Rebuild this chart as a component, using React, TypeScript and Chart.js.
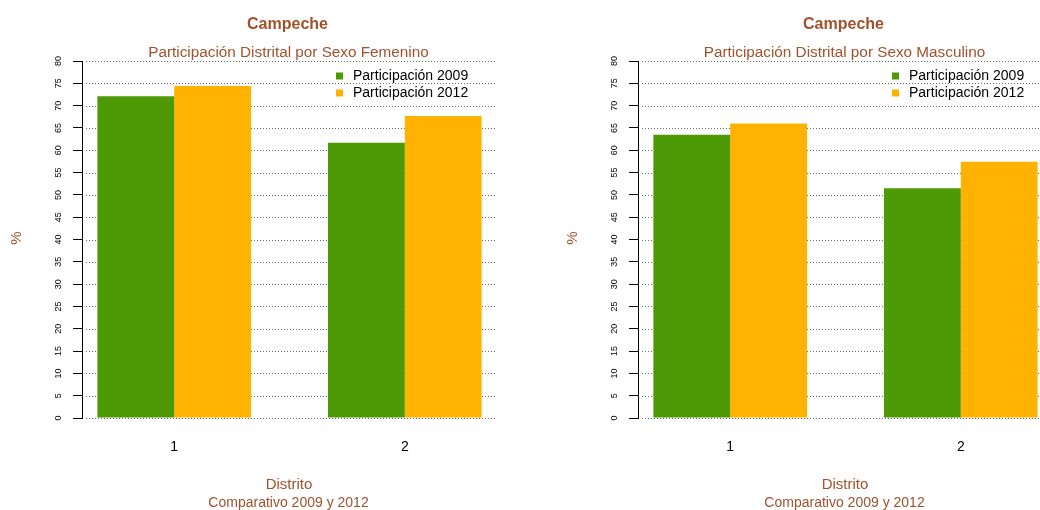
import React, { useEffect, useRef } from 'react';
import { Chart, registerables } from 'chart.js';

Chart.register(...registerables);

// ---- Data ----
const distritos = ['1', '2'];
const seriesLabels = ['Participación 2009', 'Participación 2012'];
const seriesColors = ['#4E9A06', '#FFB300'];
const femenino2009 = [72.1, 61.7];
const femenino2012 = [74.4, 67.7];
const masculino2009 = [63.5, 51.5];
const masculino2012 = [66.0, 57.4];
const yTickValues = [0, 5, 10, 15, 20, 25, 30, 35, 40, 45, 50, 55, 60, 65, 70, 75, 80];

const titulo = 'Campeche';
const subtituloFem = 'Participación Distrital por Sexo Femenino';
const subtituloMasc = 'Participación Distrital por Sexo Masculino';
const yTitulo = '%';
const xTitulo = 'Distrito';
const xSubtitulo = 'Comparativo 2009 y 2012';

const BROWN = '#A0522D';

// R barplot (beside) layout: group i is centred at 2 + 3*i, xlim expanded to 0.8..6.2
const groupPos = (i: number) => 2 + 3 * i;

const decorPlugin = {
  id: 'decor',
  beforeDatasetsDraw(chart: any) {
    const { ctx, chartArea, scales } = chart;
    ctx.save();
    ctx.strokeStyle = '#6a6a6a';
    ctx.lineWidth = 1;
    ctx.setLineDash([1, 2]);
    scales.y.ticks.forEach((t: any) => {
      const y = Math.round(scales.y.getPixelForValue(t.value)) + 0.5;
      ctx.beginPath();
      ctx.moveTo(chartArea.left + 4, y);
      ctx.lineTo(chartArea.right - 2, y);
      ctx.stroke();
    });
    ctx.restore();
  },
  afterDraw(chart: any, _args: any, opts: any) {
    const { ctx } = chart;
    const cx = 288.5;
    ctx.save();
    ctx.fillStyle = BROWN;
    ctx.textAlign = 'center';
    ctx.textBaseline = 'alphabetic';
    ctx.font = 'bold 16px "Liberation Sans Narrow", "Liberation Sans", Arial, sans-serif';
    ctx.fillText(titulo, 287.5, 29);
    ctx.font = '15.3px "Liberation Sans", Arial, sans-serif';
    ctx.fillText(opts.subtitle, cx, 56.5);
    ctx.font = '15px "Liberation Sans", Arial, sans-serif';
    ctx.fillText(xTitulo, 289, 489);
    ctx.font = '14px "Liberation Sans", Arial, sans-serif';
    ctx.fillText(xSubtitulo, cx, 506.5);
    // y title
    ctx.save();
    ctx.translate(17, 238);
    ctx.rotate(-Math.PI / 2);
    ctx.font = '15px "Liberation Sans", Arial, sans-serif';
    ctx.textBaseline = 'middle';
    ctx.fillText(yTitulo, 0, 0);
    ctx.restore();
    // legend
    ctx.textAlign = 'left';
    ctx.textBaseline = 'middle';
    ctx.font = '14px "Liberation Sans", Arial, sans-serif';
    chart.data.datasets.forEach((ds: any, i: number) => {
      const y = 76 + i * 17;
      ctx.fillStyle = ds.backgroundColor;
      ctx.fillRect(336, y - 3.5, 7, 7);
      ctx.fillStyle = '#000';
      ctx.fillText(ds.label, 353, y + 0.5);
    });
    ctx.restore();
  },
};

function makeConfig(v2009: number[], v2012: number[], subtitle: string): any {
  const series = [v2009, v2012];
  return {
    type: 'bar',
    data: {
      datasets: series.map((vals, s) => ({
        label: seriesLabels[s],
        data: vals.map((v, i) => ({ x: groupPos(i), y: v })),
        backgroundColor: seriesColors[s],
        borderWidth: 0,
        barPercentage: 1,
        categoryPercentage: 2 / 3,
      })),
    },
    options: {
      responsive: false,
      animation: false,
      layout: { padding: { left: 0, right: 23, top: 61, bottom: 0 } },
      plugins: {
        legend: { display: false },
        tooltip: { enabled: false },
        title: { display: false },
        decor: { subtitle },
      },
      scales: {
        x: {
          type: 'linear',
          offset: false,
          min: 0.8,
          max: 6.2,
          grid: { display: false, drawTicks: false, offset: false },
          border: { display: false },
          afterBuildTicks: (scale: any) => {
            scale.ticks = distritos.map((_, i) => ({ value: groupPos(i) }));
          },
          afterFit: (scale: any) => {
            scale.height = 92;
          },
          ticks: {
            autoSkip: false,
            maxRotation: 0,
            padding: 21,
            color: '#000',
            font: { family: '"Liberation Sans", Arial, sans-serif', size: 14 },
            callback: (value: number) => {
              const idx = distritos.findIndex((_, i) => groupPos(i) === value);
              return idx >= 0 ? distritos[idx] : '';
            },
          },
        },
        y: {
          type: 'linear',
          min: 0,
          max: 80,
          afterBuildTicks: (scale: any) => {
            scale.ticks = yTickValues.map((v) => ({ value: v }));
          },
          afterFit: (scale: any) => {
            scale.width = 82;
          },
          grid: { drawOnChartArea: false, drawTicks: true, tickLength: 9, color: '#000', lineWidth: 1 },
          border: { display: true, color: '#000', width: 1 },
          ticks: {
            autoSkip: false,
            minRotation: 90,
            maxRotation: 90,
            crossAlign: 'center',
            padding: 9,
            color: '#000',
            font: { family: '"Liberation Sans", Arial, sans-serif', size: 9 },
            callback: (value: number) => String(value),
          },
        },
      },
    },
    plugins: [decorPlugin],
  };
}

function Panel({ v2009, v2012, subtitle, left }: { v2009: number[]; v2012: number[]; subtitle: string; left: number }) {
  const ref = useRef<HTMLCanvasElement | null>(null);
  useEffect(() => {
    if (!ref.current) return;
    const chart = new Chart(ref.current, makeConfig(v2009, v2012, subtitle));
    return () => chart.destroy();
  }, [v2009, v2012, subtitle]);
  return (
    <canvas
      ref={ref}
      width={520}
      height={510}
      style={{ position: 'absolute', left, top: 0, width: 520, height: 510 }}
    />
  );
}

export default function App() {
  return (
    <div
      style={{
        position: 'fixed',
        left: 0,
        top: 0,
        width: 1040,
        height: 510,
        overflow: 'hidden',
        background: '#fff',
      }}
    >
      <Panel v2009={femenino2009} v2012={femenino2012} subtitle={subtituloFem} left={0} />
      <Panel v2009={masculino2009} v2012={masculino2012} subtitle={subtituloMasc} left={556} />
    </div>
  );
}
